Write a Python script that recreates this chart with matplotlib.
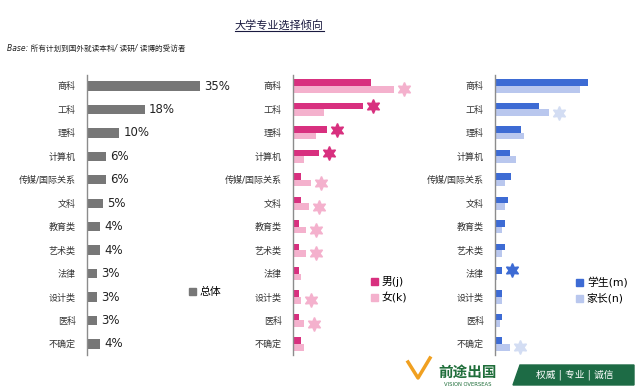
import matplotlib
matplotlib.use("Agg")
import matplotlib.pyplot as plt
from matplotlib.patches import Patch, Polygon
from matplotlib import transforms
from matplotlib.lines import Line2D

plt.rcParams['font.family'] = ['DejaVu Sans', 'Noto Sans CJK SC']

categories = ["商科", "工科", "理科", "计算机", "传媒/国际关系", "文科",
              "教育类", "艺术类", "法律", "设计类", "医科", "不确定"]
overall = [35, 18, 10, 6, 6, 5, 4, 4, 3, 3, 3, 4]
overall_labels = ["35%", "18%", "10%", "6%", "6%", "5%", "4%", "4%", "3%", "3%", "3%", "4%"]
male = [24.3, 21.8, 10.5, 8.1, 2.5, 2.5, 1.8, 1.8, 1.8, 1.8, 1.8, 2.5]
female = [31.4, 9.7, 7.2, 3.4, 5.7, 4.9, 4.1, 4.1, 2.5, 2.5, 3.4, 3.4]
male_star = [False, True, True, True, False, False, False, False, False, False, False, False]
female_star = [True, False, False, False, True, True, True, True, False, True, True, False]
student = [28.9, 13.6, 7.9, 4.7, 4.9, 3.9, 3.2, 3.2, 2.3, 2.3, 2.3, 2.3]
parent = [26.4, 16.8, 8.9, 6.4, 3.1, 3.1, 2.3, 2.3, 0.6, 2.3, 1.5, 4.7]
student_star = [False, False, False, False, False, False, False, False, True, False, False, False]
parent_star = [False, True, False, False, False, False, False, False, False, False, False, True]

W, H = 640, 390
fig = plt.figure(figsize=(W / 100, H / 100), dpi=100)
fig.patch.set_facecolor("white")

PX_PER_PCT = 3.23
ROW0, ROWSTEP = 86.0, 23.45
TOP, BOT = 75, 355

def make_ax(left_px, width_px):
    ax = fig.add_axes([left_px / W, 1 - BOT / H, width_px / W, (BOT - TOP) / H])
    ax.set_xlim(0, width_px / PX_PER_PCT)
    ax.set_ylim((BOT - ROW0) / ROWSTEP, (TOP - ROW0) / ROWSTEP)
    for s in ["top", "right", "bottom"]:
        ax.spines[s].set_visible(False)
    ax.spines["left"].set_color("#8c8c8c")
    ax.spines["left"].set_linewidth(1.0)
    ax.set_xticks([])
    ax.set_yticks(range(len(categories)))
    ax.set_yticklabels(categories, fontsize=6.5, color="#333333")
    ax.tick_params(axis="y", length=0, pad=8)
    ax.patch.set_alpha(0)
    return ax

ys = list(range(len(categories)))

# Panel 1 - overall
ax1 = make_ax(87, 150)
ax1.barh(ys, overall, height=0.4, color="#777777")
off = transforms.offset_copy(ax1.transData, fig=fig, x=4, y=0, units="dots")
for y, v, lab in zip(ys, overall, overall_labels):
    ax1.text(v, y, lab, transform=off, va="center", ha="left", fontsize=8.5, color="#222222")

def paired(ax, a, b, ca, cb, sa, sb, sca, scb):
    ya = [y - 0.14 for y in ys]
    yb = [y + 0.14 for y in ys]
    ax.barh(ya, a, height=0.28, color=ca)
    ax.barh(yb, b, height=0.28, color=cb)
    offs = transforms.offset_copy(ax.transData, fig=fig, x=10, y=0, units="dots")
    for y, v, f in zip(ya, a, sa):
        if f:
            ax.plot(v, y, marker=(6, 1, 0), markersize=10, color=sca, transform=offs, clip_on=False)
    for y, v, f in zip(yb, b, sb):
        if f:
            ax.plot(v, y, marker=(6, 1, 0), markersize=10, color=scb, transform=offs, clip_on=False)

ax2 = make_ax(293, 130)
paired(ax2, male, female, "#d8307f", "#f4b1cd", male_star, female_star, "#d8307f", "#f4b1cd")

ax3 = make_ax(495, 130)
paired(ax3, student, parent, "#3d6bd4", "#b9c7ee", student_star, parent_star, "#3d6bd4", "#d3ddf3")

# Legends
def legend(handles, labels, x, y):
    fig.legend(handles, labels, loc="upper left", bbox_to_anchor=(x / W, 1 - y / H),
               frameon=False, fontsize=7.8, handlelength=0.6, handleheight=0.6,
               handletextpad=0.4, labelspacing=0.5, borderpad=0, borderaxespad=0)

legend([Patch(color="#777777")], ["总体"], 189, 287)
legend([Patch(color="#d8307f"), Patch(color="#f4b1cd")], ["男(j)", "女(k)"], 371, 276)
legend([Patch(color="#3d6bd4"), Patch(color="#b9c7ee")], ["学生(m)", "家长(n)"], 576, 277)

# Title and base
title = fig.text(279 / W, 1 - 25 / H, "大学专业选择倾向", ha="center", va="center",
                 fontsize=8, color="#1a1a40")
fig.text(7 / W, 1 - 48 / H, "Base: 所有计划到国外就读本科/ 读研/ 读博的受访者", ha="left",
         va="center", fontsize=5.5, style="italic", color="#222222")
fig.canvas.draw()
bb = title.get_window_extent()
fig.add_artist(Line2D([bb.x0 / W, bb.x1 / W], [(bb.y0 - 1) / H, (bb.y0 - 1) / H],
                      transform=fig.transFigure, color="#1a1a40", lw=0.8))

# Logo
def P(x, y):
    return (x / W, 1 - y / H)

fig.add_artist(Polygon([P(513, 385), P(520, 365), P(634, 365), P(634, 385)], closed=True,
                       transform=fig.transFigure, color="#1d6b45"))
fig.text(575 / W, 1 - 375 / H, "权威 | 专业 | 诚信", ha="center", va="center",
         fontsize=7, color="white")
fig.text(468 / W, 1 - 372 / H, "前途出国", ha="center", va="center", fontsize=10.5,
         color="#1f6e3a", fontweight="bold")
fig.text(468 / W, 1 - 385 / H, "VISION OVERSEAS", ha="center", va="center", fontsize=3.8,
         color="#1f6e3a")
fig.add_artist(Line2D([408 / W, 418 / W, 430 / W], [1 - 362 / H, 1 - 378 / H, 1 - 358 / H],
                      transform=fig.transFigure, color="#f0a020", lw=2.5))

fig.savefig("out.png", dpi=100, facecolor="white")
